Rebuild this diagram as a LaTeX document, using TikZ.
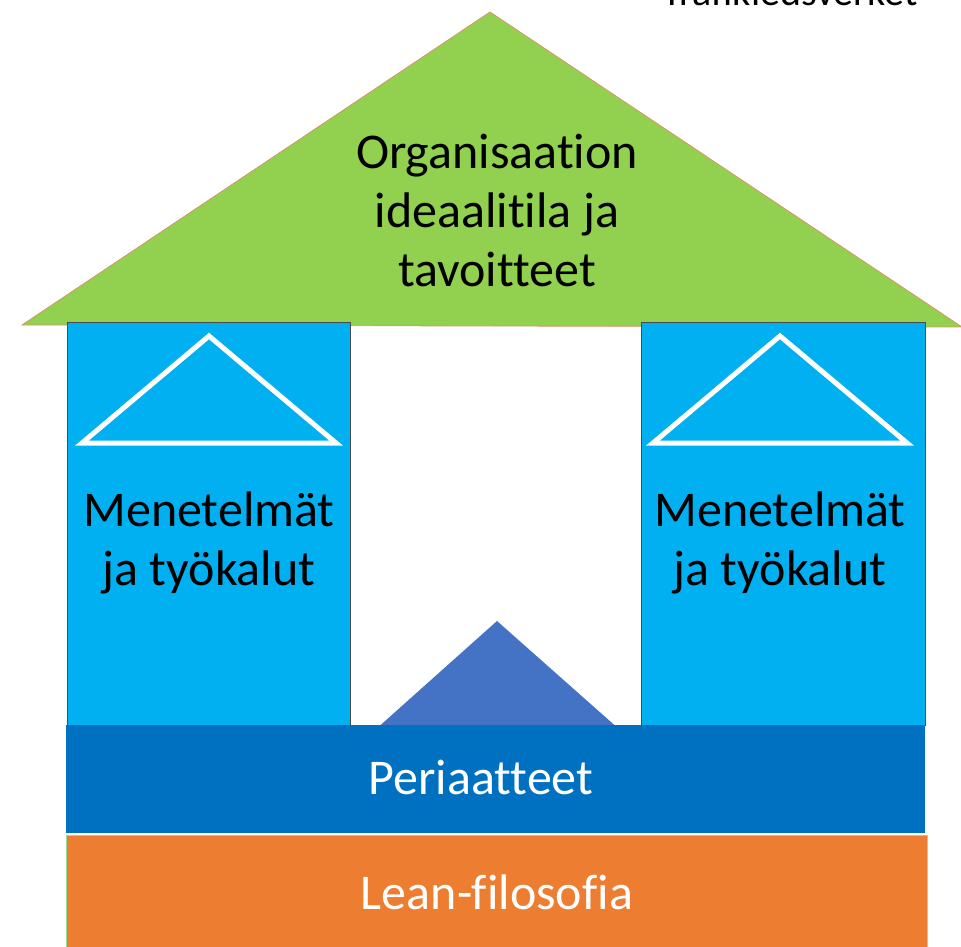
\documentclass[tikz,border=0pt]{standalone}
\usepackage{fontspec}
\setmainfont[Ligatures=NoCommon]{Carlito}
\usepackage{tikz}
\definecolor{roofgreen}{RGB}{146,208,80}
\definecolor{roofedge}{RGB}{214,150,100}
\definecolor{pillarblue}{RGB}{0,176,240}
\definecolor{peakblue}{RGB}{68,114,196}
\definecolor{baseblue}{RGB}{0,112,192}
\definecolor{leanorange}{RGB}{237,125,49}
\tikzset{
  pillar/.style={fill=pillarblue,draw=black!70,line width=0.8pt},
  pillartri/.style={draw=white,line width=5pt,line join=miter},
  bigtext/.style={font=\fontsize{50}{59}\selectfont,align=center,inner sep=0pt},
}
\begin{document}
\begin{tikzpicture}[x=1pt,y=-1pt]
        \clip(0,0)rectangle(961,947);
        \useasboundingbox(0,0)rectangle(961,947);
        % Roof
        \filldraw[fill=roofgreen,draw=roofedge,line width=0.8pt](22,325)--(490,12)--(962,327)--cycle;
        \node[bigtext,text=black](roof)at(497,210){Organisaation\\ideaalitila ja\\tavoitteet};
        % Pillars
        \filldraw[pillar](67,322)rectangle(350,725);
        \filldraw[pillar](641,322)rectangle(925,725);
        \draw[pillartri](82,443)--(209,336)--(336,443)--cycle;
        \draw[pillartri](653,443)--(780,336)--(907,443)--cycle;
        \node[bigtext,text=black](leftpillar)at(209,543){Menetelmät\\ja työkalut};
        \node[bigtext,text=black](rightpillar)at(780,543){Menetelmät\\ja työkalut};
        % Middle peak
        \fill[peakblue](375,730)--(497,621)--(620,730)--cycle;
        % Principles
        \fill[baseblue](66,725)rectangle(925,833);
        \node[bigtext,text=white](principles)at(481,777){Periaatteet};
        % Philosophy
        \filldraw[fill=leanorange,draw=black!35!green!40,line width=0.6pt](66,835)rectangle(927,960);
        \node[bigtext,text=white](philosophy)at(497,892){Lean-filosofia};
        % Source text
        \node[font=\fontsize{40}{48}\selectfont,anchor=base east,inner sep=0pt](source)at(918,6){Trafikledsverket};
    \end{tikzpicture}
\end{document}
